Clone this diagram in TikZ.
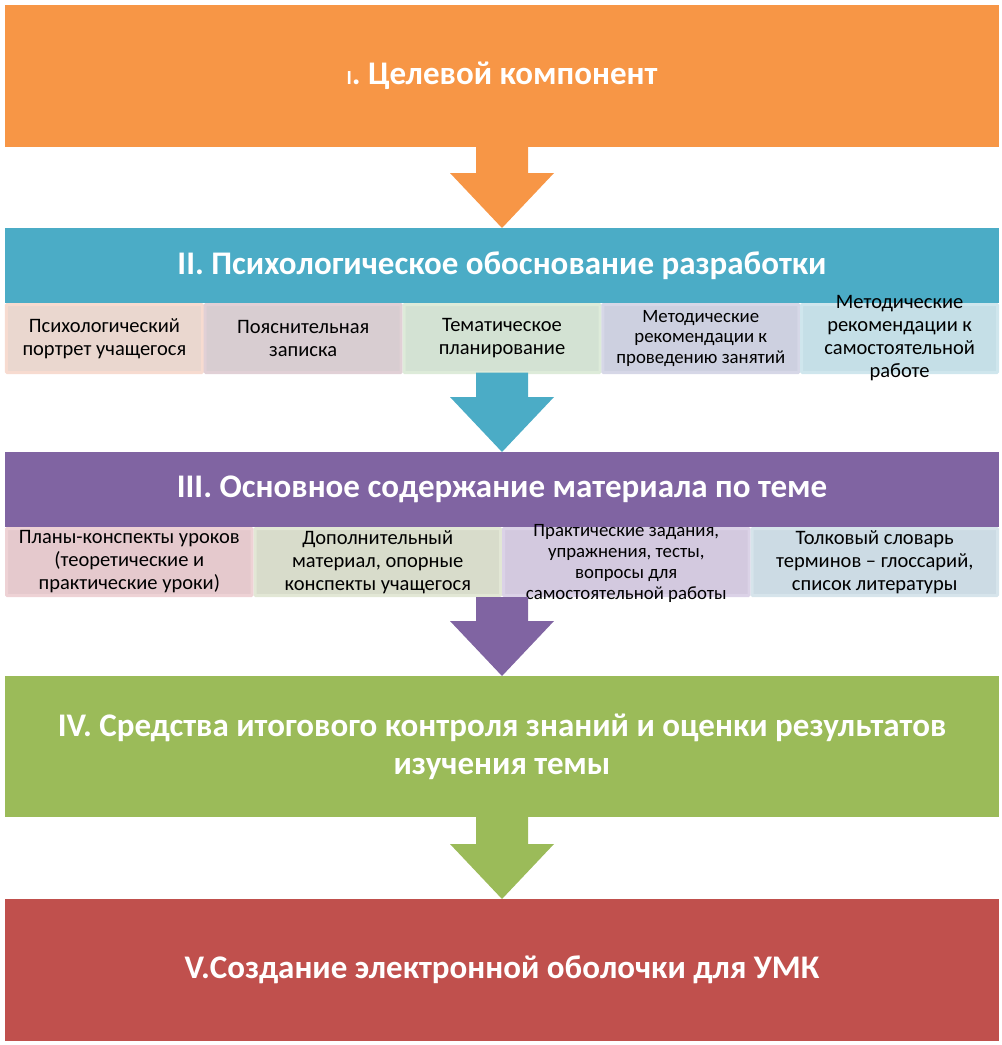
\documentclass[tikz,border=0pt]{standalone}
\usepackage{fontspec}
\setmainfont{Carlito}
\usetikzlibrary{calc}

\definecolor{orangeF}{HTML}{F79646}
\definecolor{tealF}{HTML}{4BACC6}
\definecolor{purpleF}{HTML}{8064A2}
\definecolor{greenF}{HTML}{9BBB59}
\definecolor{redF}{HTML}{C0504D}
% light boxes: fill and rim
\definecolor{pa}{HTML}{EAD7CF}\definecolor{pA}{HTML}{F7DBD0}
\definecolor{pb}{HTML}{D8CDD1}\definecolor{pB}{HTML}{E1D0D6}
\definecolor{pc}{HTML}{D3E2D3}\definecolor{pC}{HTML}{DDEBD9}
\definecolor{pd}{HTML}{CDD0E0}\definecolor{pD}{HTML}{D6D7E7}
\definecolor{pe}{HTML}{C5DFE7}\definecolor{pE}{HTML}{CFE6ED}
\definecolor{qa}{HTML}{E5C9CD}\definecolor{qA}{HTML}{EED2D5}
\definecolor{qb}{HTML}{D8DCCB}\definecolor{qB}{HTML}{E2E7D5}
\definecolor{qc}{HTML}{D3C9DF}\definecolor{qC}{HTML}{DBD2E7}
\definecolor{qd}{HTML}{CCDBE4}\definecolor{qD}{HTML}{D6E4EB}

\tikzset{
  mainbox/.style={fill=#1, text=white, inner sep=0pt, outer sep=0pt,
    minimum width=994pt, align=center,
    font=\bfseries\fontsize{33}{38}\selectfont},
  subbox/.style 2 args={fill=#1, draw=#2, line width=3pt, rounded corners=0.8pt,
    inner sep=0pt, outer sep=0pt, align=center, text=black,
    font=\fontsize{20.5}{23}\selectfont},
  narrow/.style={font=\fontsize{18.8}{20.8}\selectfont},
  subtxt/.style={align=center, inner sep=0pt, text=black,
    font=\fontsize{20.5}{23}\selectfont}
}

\begin{document}
\begin{tikzpicture}[x=1pt,y=-1pt]
  \useasboundingbox (0,0) rectangle (1002,1045);

  \node[mainbox=orangeF, minimum height=142pt] (b1) at (502,76)
    {{\fontsize{20}{20}\selectfont I}. Целевой компонент};

  \node[mainbox=tealF, minimum height=75pt] (b2) at (502,265.5)
    {II. Психологическое обоснование разработки};
  \node[subbox={pa}{pA}, minimum width=196pt, minimum height=68pt] (s11) at (104.4,338.5)
    {Психологический\\портрет учащегося};
  \node[subbox={pb}{pB}, minimum width=196pt, minimum height=68pt] (s12) at (303.2,338.5)
    {Пояснительная\\записка};
  \node[subbox={pc}{pC}, minimum width=196pt, minimum height=68pt] (s13) at (502,338.5)
    {Тематическое\\планирование};
  \node[subbox={pd}{pD}, narrow, minimum width=196pt, minimum height=68pt] (s14) at (700.8,338.5)
    {Методические\\рекомендации к\\проведению занятий};
  \node[subbox={pe}{pE}, minimum width=196pt, minimum height=68pt,
    label={[subtxt]center:Методические\\рекомендации к\\самостоятельной\\работе}] (s15) at (899.6,338.5) {};

  \node[mainbox=purpleF, minimum height=75pt] (b3) at (502,489.5)
    {III. Основное содержание материала по теме};
  \node[subbox={qa}{qA}, minimum width=245.5pt, minimum height=67pt] (s21) at (129.25,562)
    {Планы-конспекты уроков\\(теоретические и\\практические уроки)};
  \node[subbox={qb}{qB}, minimum width=245.5pt, minimum height=67pt] (s22) at (377.75,562)
    {Дополнительный\\материал, опорные\\конспекты учащегося};
  \node[subbox={qc}{qC}, minimum width=245.5pt, minimum height=67pt,
    label={[subtxt, narrow, yshift=-1.5pt]center:{Практические задания,\\упражнения, тесты,\\вопросы для\\самостоятельной работы}}] (s23) at (626.25,562) {};
  \node[subbox={qd}{qD}, minimum width=245.5pt, minimum height=67pt] (s24) at (874.75,562)
    {Толковый словарь\\терминов -- глоссарий,\\список литературы};
  \coordinate (r2) at ($(s22.south east)+(1.5,1.5)$);

  \node[mainbox=greenF, minimum height=141pt] (b4) at (502,746.5)
    {IV. Средства итогового контроля знаний и оценки результатов\\изучения темы};

  \node[mainbox=redF, minimum height=142pt] (b5) at (502,970)
    {V.Создание электронной оболочки для УМК};

  % block arrows
  \foreach \a/\b/\c in {b1.south/b2/orangeF, s13.south/b3/tealF, r2/b4/purpleF, b4.south/b5/greenF}
    \fill[\c] ($(\a)+(-26,0)$) -- ($(\b.north)+(-26,-55)$) -- ($(\b.north)+(-52,-55)$)
      -- (\b.north) -- ($(\b.north)+(52,-55)$) -- ($(\b.north)+(26,-55)$)
      -- ($(\a)+(26,0)$) -- cycle;

\end{tikzpicture}
\end{document}
